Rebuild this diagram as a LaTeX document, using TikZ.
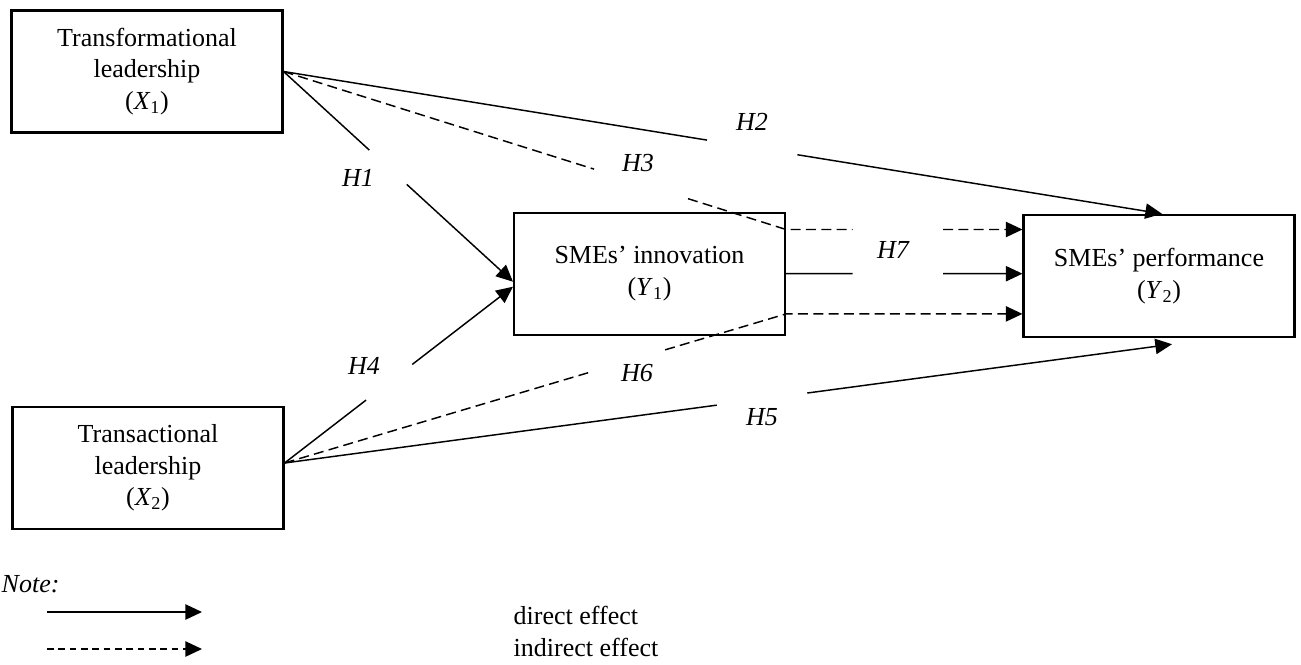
\documentclass[tikz,border=0pt]{standalone}
\usepackage{fontspec}
\setmainfont{Liberation Serif}
\usetikzlibrary{arrows.meta,calc}

\newcommand{\figfont}{\fontsize{19.5}{23.5}\selectfont}
\tikzset{every picture/.style={line width=0.75pt}}
\tikzset{
  varbox/.style={draw, line width=1.8pt, minimum width=203pt, minimum height=91.5pt, align=center, inner sep=0pt},
  tip/.style={-{Triangle[length=12.5pt,width=11.5pt]}},
  indirect/.style={dash pattern=on 7.5pt off 4pt},
  hyp/.style={font=\figfont\itshape, inner sep=0.75pt},
}

\begin{document}
\begin{tikzpicture}[x=0.75pt,y=0.75pt,yscale=-1,xscale=1, line width=1.1pt, every node/.style={font=\figfont}]
\useasboundingbox (0,0) rectangle (1301,664);

% Text Node
\node[varbox] (X1) at (147,71.5) {Transformational\\leadership\\(\textit{X}\textsubscript{1})};
% Text Node
\node[varbox] (X2) at (148,468) {Transactional\\leadership\\(\textit{X}\textsubscript{2})};
% Text Node
\node[varbox] (Y1) at (649.5,273.7) {SMEs’ innovation\\(\textit{Y}\textsubscript{1})};
% Text Node
\node[varbox] (Y2) at (1159,276) {SMEs’ performance\\(\textit{Y}\textsubscript{2})};

% yshift is flipped by yscale=-1 (positive = down)
\coordinate (s1) at (X1.east);
\coordinate (s2) at ([yshift=-3.75pt]X2.east);
\coordinate (c3) at ([yshift=13.5pt]Y1.north east);
\coordinate (c6) at ([yshift=-16.5pt]Y1.south east);
\coordinate (t1) at ([yshift=6pt]Y1.west);
\coordinate (t4) at ([yshift=9.75pt]Y1.west);
\coordinate (t2) at ([xshift=2.25pt]Y2.north);
\coordinate (t5) at ([xshift=9.75pt,yshift=4.5pt]Y2.south);

%Straight Lines H1
\draw (s1) -- ($(s1)!0.374!(t1)$);
\draw[tip] ($(s1)!0.537!(t1)$) -- (t1);
%Straight Lines H2
\draw (s1) -- ($(s1)!0.482!(t2)$);
\draw[tip] ($(s1)!0.585!(t2)$) -- (t2);
%Straight Lines H3
\draw[indirect] (s1) -- ($(s1)!0.618!(c3)$);
\draw[indirect] ($(s1)!0.805!(c3)$) -- (c3) -- ($(c3)!0.282!(c3 -| Y2.west)$);
\draw[indirect, tip] ($(c3)!0.664!(c3 -| Y2.west)$) -- (c3 -| Y2.west);
%Straight Lines H7
\draw (Y1.east) -- ($(Y1.east)!0.282!(Y1.east -| Y2.west)$);
\draw[tip] ($(Y1.east)!0.664!(Y1.east -| Y2.west)$) -- (Y1.east -| Y2.west);
%Straight Lines H4
\draw (s2) -- ($(s2)!0.357!(t4)$);
\draw[tip] ($(s2)!0.559!(t4)$) -- (t4);
%Straight Lines H6
\draw[indirect] (s2) -- ($(s2)!0.612!(c6)$);
\draw[indirect, tip] ($(s2)!0.759!(c6)$) -- (c6) -- (c6 -| Y2.west);
%Straight Lines H5
\draw (s2) -- ($(s2)!0.487!(t5)$);
\draw[tip] ($(s2)!0.589!(t5)$) -- (t5);

% Text Node
\node[hyp] (h1) at (358,178) {H1};
\node[hyp] (h2) at (752,122) {H2};
\node[hyp] (h3) at (638,163) {H3};
\node[hyp] (h4) at (364,366) {H4};
\node[hyp] (h5) at (762,417) {H5};
\node[hyp] (h6) at (637,373) {H6};
\node[hyp] (h7) at (893,250) {H7};

% Text Node
\node[hyp, anchor=base west, inner sep=0pt] (note) at (1,592) {Note:};
\node[anchor=base west, inner sep=0pt] (direct) at (513,624) {direct effect};
\node[anchor=base west, inner sep=0pt] (indir) at (513,656) {indirect effect};
\coordinate (d0) at (47,612);
\coordinate (d1) at (202,612);
\coordinate (i0) at (47,649);
\coordinate (i1) at (202,649);
%Straight Lines
\draw[tip] (d0) -- (d1);
\draw[tip, dash pattern=on 5pt off 3.5pt] (i0) -- (i1);

\end{tikzpicture}
\end{document}
